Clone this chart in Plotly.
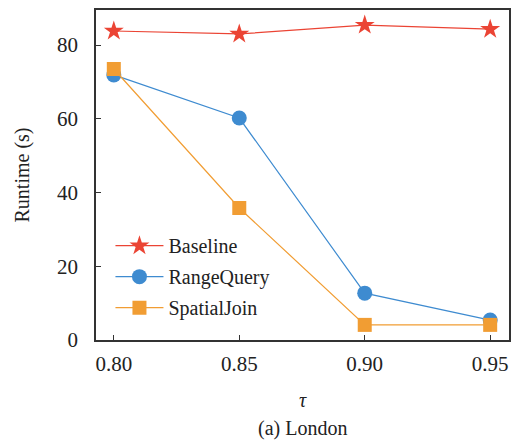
import plotly.graph_objects as go

tau = [0.80, 0.85, 0.90, 0.95]
baseline = [83.8, 83.0, 85.4, 84.3]
range_query = [71.9, 60.2, 12.7, 5.4]
spatial_join = [73.5, 35.8, 4.1, 4.1]
y_ticks = [0, 20, 40, 60, 80]
x_ticks = [0.80, 0.85, 0.90, 0.95]
x_tick_labels = ["0.80", "0.85", "0.90", "0.95"]

FONT = "Liberation Serif"
RED = "#EB4434"
BLUE = "#3E8BD0"
ORANGE = "#F19D33"

fig = go.Figure()
fig.add_trace(go.Scatter(x=tau, y=baseline, name="Baseline", mode="lines+markers",
                         legendgroup="a",
                         line=dict(color=RED, width=1.2),
                         marker=dict(symbol="star", size=15, color=RED)))
fig.add_trace(go.Scatter(x=tau, y=range_query, name="RangeQuery", mode="lines+markers",
                         legendgroup="b",
                         line=dict(color=BLUE, width=1.2),
                         marker=dict(symbol="circle", size=15, color=BLUE)))
fig.add_trace(go.Scatter(x=tau, y=spatial_join, name="SpatialJoin", mode="lines+markers",
                         legendgroup="c",
                         line=dict(color=ORANGE, width=1.2),
                         marker=dict(symbol="square", size=14, color=ORANGE)))

fig.update_layout(
    width=513, height=441,
    margin=dict(l=96, r=2, t=10, b=101),
    paper_bgcolor="white", plot_bgcolor="white",
    font=dict(family=FONT, size=20, color="#222222"),
    showlegend=True,
    legend=dict(x=0.035, y=0.345, xanchor="left", yanchor="top",
                bgcolor="rgba(0,0,0,0)", borderwidth=0,
                font=dict(family=FONT, size=20),
                traceorder="grouped", tracegroupgap=2, itemwidth=48),
    xaxis=dict(range=[0.7929, 0.9575], tickvals=x_ticks, ticktext=x_tick_labels,
               ticks="inside", ticklen=5, tickcolor="#333333",
               showline=True, linecolor="#333333", linewidth=1.5, mirror=True,
               showgrid=False, zeroline=False, ticklabelstandoff=4,
               tickfont=dict(family=FONT, size=21)),
    yaxis=dict(range=[0, 89.5], tickvals=y_ticks,
               ticks="inside", ticklen=5, tickcolor="#333333",
               showline=True, linecolor="#333333", linewidth=1.5, mirror=True,
               showgrid=False, zeroline=False, ticklabelstandoff=12,
               title=dict(text="Runtime (s)", font=dict(family=FONT, size=20), standoff=22),
               tickfont=dict(family=FONT, size=21)),
)
fig.add_annotation(text="<i>τ</i>", xref="paper", yref="paper", x=0.5, y=-0.182,
                   yanchor="middle", showarrow=False, font=dict(family=FONT, size=20))
fig.add_annotation(text="(a) London", xref="paper", yref="paper", x=0.5, y=-0.267,
                   yanchor="middle", showarrow=False, font=dict(family=FONT, size=20))

fig.write_html("out.html")
